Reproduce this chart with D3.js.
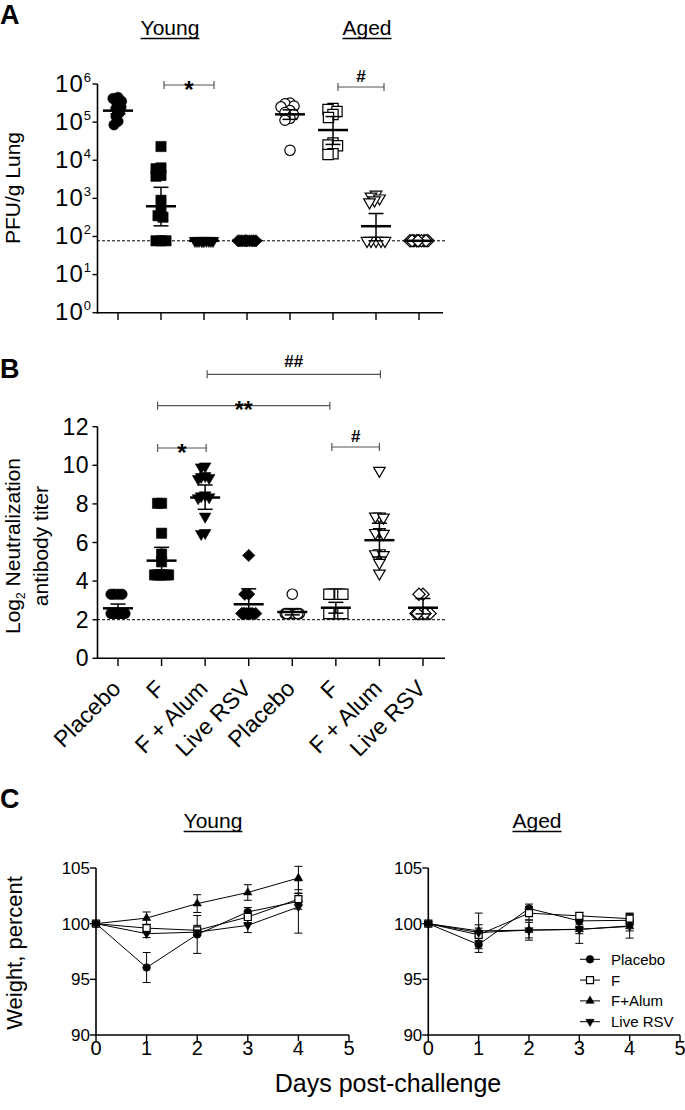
<!DOCTYPE html>
<html><head><meta charset="utf-8">
<script src="https://cdn.jsdelivr.net/npm/d3@7"></script>
<style>
body{margin:0;background:#fff}
svg text{font-family:"Liberation Sans",Arial,Helvetica,sans-serif;fill:#000}
</style>
</head><body>
<svg id="chart" width="685" height="1110"></svg>
<script>
// ---------- DATA ----------
const groupLabels = ["Placebo","F","F + Alum","Live RSV","Placebo","F","F + Alum","Live RSV"];
const ageLabels = ["Young","Aged"];
const lodPFU = 77;      // limit of detection, PFU/g
const lodNAb = 2;       // limit of detection, log2 titer
const pfuTickExps = [0,1,2,3,4,5,6];

// Panel A: PFU/g lung
const pfuYoungPlacebo = [447000,417000,355000,302000,251000,224000,178000,141000,105000,85000];
const pfuYoungF       = [22900,6300,6000,4000,3800,890,450,350,320,77,77,77];
const pfuYoungFAlum   = [77,77,77,77,77,77,77,77,77,77];
const pfuYoungLive    = [77,77,77,77,77,77,77,77,77,77];
const pfuAgedPlacebo  = [316000,302000,263000,251000,200000,178000,158000,126000,112000,18200];
const pfuAgedF        = [229000,214000,191000,158000,132000,28200,25100,24000,14800,14100];
const pfuAgedFAlum    = [1260,1120,1000,890,790,77,77,77,77,77];
const pfuAgedLive     = [77,77,77,77,77,77,77,77,77,77];
const pfuMean  = [200000,620,77,77,160000,62000,186,77];
const pfuErrHi = [240000,1950,77,77,210000,140000,400,77];
const pfuErrLo = [165000,190,77,77,118000,26000,77,77];

// Panel B: log2 neutralization titer
const nabYoungPlacebo = [3.32,3.32,3.32,3.32,2.32,2.32,2.32,2.32,2.32,2.32,2.32];
const nabYoungF       = [8.03,8.03,6.48,5.4,5.0,4.32,4.32,4.32,4.32,4.32,4.32];
const nabYoungFAlum   = [9.95,9.9,9.45,9.4,9.35,9.3,8.45,8.4,8.35,8.3,7.35,6.5,6.45];
const nabYoungLive    = [5.33,3.32,3.32,2.32,2.32,2.32,2.32,2.32,2.32,2.32,2.32];
const nabAgedPlacebo  = [3.32,2.32,2.32,2.32,2.32,2.32,2.32,2.32,2.32,2.32];
const nabAgedF        = [3.32,3.32,3.32,3.32,3.32,2.32,2.32,2.32,2.32,2.32];
const nabAgedFAlum    = [9.72,7.35,7.35,7.3,6.55,6.5,6.45,5.45,5.4,5.35,4.95,4.4];
const nabAgedLive     = [3.32,3.32,2.32,2.32,2.32,2.32,2.32,2.32,2.32,2.32];
const nabMean  = [2.59,5.06,8.33,2.8,2.4,2.62,6.12,2.62];
const nabErrHi = [2.81,5.75,8.98,3.6,2.55,2.9,7.0,3.1];
const nabErrLo = [2.37,4.4,7.72,2.3,2.25,2.34,5.25,2.3];

// Panel C: weight, percent
const days = [0,1,2,3,4];
const seriesNames = ["Placebo","F","F+Alum","Live RSV"];
const wYoungPlacebo = [100,96.06,99.03,101.05,102.0];
const wYoungF       = [100,99.6,99.4,100.6,102.2];
const wYoungFAlum   = [100,100.5,101.8,102.8,104.1];
const wYoungLive    = [100,99.1,99.24,99.85,101.5];
const eYoungPlacebo = [0,1.35,1.7,0.4,0.7];
const eYoungF       = [0,0.3,0.45,0.5,0.55];
const eYoungFAlum   = [0,0.55,0.8,0.7,1.05];
const eYoungLive    = [0,0.35,0.3,0.65,2.35];
const wAgedPlacebo  = [100,98.12,101.36,100.25,100.3];
const wAgedF        = [100,99.0,100.94,100.7,100.45];
const wAgedFAlum    = [100,99.35,99.42,99.5,99.75];
const wAgedLive     = [100,99.2,99.42,99.48,99.8];
const eAgedPlacebo  = [0,0.7,0.4,0.5,0.5];
const eAgedF        = [0,0.6,0.6,0.3,0.5];
const eAgedFAlum    = [0,1.6,0.9,0.4,0.4];
const eAgedLive     = [0,0.7,0.7,1.25,1.1];

// ---------- HELPERS ----------
const svg = d3.select("#chart");
const shapes = ["circle","square","triDown","diamond"];

function marker(g, shape, x, y, size, filled) {
  let type = d3.symbolCircle, rot = 0;
  if (shape === "square") type = d3.symbolSquare;
  if (shape === "diamond") { type = d3.symbolSquare; rot = 45; }
  if (shape === "triDown") { type = d3.symbolTriangle; rot = 180; }
  if (shape === "triUp") { type = d3.symbolTriangle; }
  g.append("path")
    .attr("d", d3.symbol(type, size)())
    .attr("transform", `translate(${x},${y}) rotate(${rot})`)
    .attr("fill", filled ? "#000" : "#fff")
    .attr("stroke", "#000")
    .attr("stroke-width", filled ? 0.6 : 1.2);
}

function swarm(vals, ys, minDist, cap) {
  const placed = [];
  const cands = d3.range(-cap, cap + 0.001, 0.5).sort((a,b) => Math.abs(a)-Math.abs(b) || a-b);
  return vals.map(v => {
    const y = ys(v);
    let best = 0, bestD = -1;
    for (const c of cands) {
      let d = Infinity;
      for (const p of placed) d = Math.min(d, Math.hypot(p[0]-c, p[1]-y));
      if (d >= minDist) { best = c; bestD = d; break; }
      if (d > bestD + 0.01) { bestD = d; best = c; }
    }
    placed.push([best, y]);
    return best;
  });
}

function line(g, x1, y1, x2, y2, w, color, dash) {
  const l = g.append("line").attr("x1",x1).attr("y1",y1).attr("x2",x2).attr("y2",y2)
    .attr("stroke", color || "#000").attr("stroke-width", w);
  if (dash) l.attr("stroke-dasharray", dash);
  return l;
}

function header(x, y, txt, size) {
  const t = svg.append("text").attr("x",x).attr("y",y).attr("text-anchor","middle")
    .attr("font-size",size).text(txt);
  const w = t.node().getComputedTextLength();
  line(svg, x - w/2, y + 3.5, x + w/2, y + 3.5, 1.3);
}

function bracket(g, x1, x2, y, label, labelSize, labelDy) {
  line(g, x1, y, x2, y, 1.2, "#555");
  line(g, x1, y-4, x1, y+4, 1.2, "#555");
  line(g, x2, y-4, x2, y+4, 1.2, "#555");
  g.append("text").attr("x",(x1+x2)/2).attr("y",y+labelDy).attr("text-anchor","middle")
    .attr("font-size",labelSize).attr("font-weight","bold").text(label);
}

function panelLetter(x, y, l) {
  svg.append("text").attr("x",x).attr("y",y).attr("font-size",27).attr("font-weight","bold").text(l);
}

function scatterPanel(g, groups, xs, ys, means, hi, lo, minDist, cap, mSizes) {
  groups.forEach((vals, i) => {
    const shape = shapes[i % 4];
    const filled = i < 4;
    const offs = swarm(vals, ys, minDist, cap);
    vals.forEach((v, j) => marker(g, shape, xs(i) + offs[j], ys(v), mSizes[shape], filled));
  });
  groups.forEach((vals, i) => {
    const cx = xs(i);
    if (hi[i] !== means[i]) {
      line(g, cx, ys(hi[i]), cx, ys(means[i]), 1.5);
      line(g, cx-7.5, ys(hi[i]), cx+7.5, ys(hi[i]), 1.5);
    }
    if (lo[i] !== means[i]) {
      line(g, cx, ys(lo[i]), cx, ys(means[i]), 1.5);
      line(g, cx-7.5, ys(lo[i]), cx+7.5, ys(lo[i]), 1.5);
    }
    line(g, cx-15, ys(means[i]), cx+15, ys(means[i]), 2.5);
  });
}

const mSizesAB = {circle: 85, square: 105, triDown: 58, diamond: 76};

// ---------- PANEL A ----------
panelLetter(0, 24, "A");
header(170, 35, ageLabels[0], 21);
header(367, 35, ageLabels[1], 21);

const gA = svg.append("g");
const xA = d3.scalePoint().domain(d3.range(8)).range([118, 419]);
const yA = d3.scaleLog().domain([1, 1e6]).range([312.7, 84]);

line(gA, 97.5, 84, 97.5, 313.5, 1.6);
line(gA, 97, 312.7, 443, 312.7, 1.6);
pfuTickExps.forEach(e => {
  const y = yA(Math.pow(10, e));
  line(gA, 92.5, y, 97.5, y, 1.4);
  const t = gA.append("text").attr("x", 92).attr("y", y + 7.7).attr("text-anchor","end")
    .attr("font-size", 24).attr("letter-spacing", 1);
  t.append("tspan").text("10");
  t.append("tspan").attr("dy", -10).attr("font-size", 13).text(String(e));
});
d3.range(8).forEach(i => line(gA, xA(i), 312.7, xA(i), 320, 1.4));
gA.append("text").attr("transform","translate(20,188) rotate(-90)").attr("text-anchor","middle")
  .attr("font-size", 21).text("PFU/g Lung");

line(gA, 97, yA(lodPFU), 447, yA(lodPFU), 1, "#000", "3,2");

scatterPanel(gA,
  [pfuYoungPlacebo,pfuYoungF,pfuYoungFAlum,pfuYoungLive,pfuAgedPlacebo,pfuAgedF,pfuAgedFAlum,pfuAgedLive],
  xA, yA, pfuMean, pfuErrHi, pfuErrLo, 5, 9, mSizesAB);

bracket(gA, xA(1)+3, xA(2)+10, 85, "*", 24, 12.5);
bracket(gA, xA(5)+5, xA(6)+8, 87, "#", 17, -5);

// ---------- PANEL B ----------
panelLetter(0, 378, "B");
const gB = svg.append("g");
const xB = d3.scalePoint().domain(d3.range(8)).range([118, 423]);
const yB = d3.scaleLinear().domain([0, 12]).range([658.3, 426.7]);

line(gB, 97.5, 426.7, 97.5, 659, 1.6);
line(gB, 97, 658.3, 445, 658.3, 1.6);
yB.ticks(6).forEach(v => {
  const y = yB(v);
  line(gB, 92.5, y, 97.5, y, 1.4);
  gB.append("text").attr("x", 89).attr("y", y + 8).attr("text-anchor","end")
    .attr("font-size", 23).attr("letter-spacing", 0.5).text(v);
});
d3.range(8).forEach(i => {
  line(gB, xB(i), 658.3, xB(i), 666, 1.4);
  gB.append("text").attr("transform", `translate(${xB(i)+4},${690}) rotate(-45)`)
    .attr("text-anchor","end").attr("font-size", 23).text(groupLabels[i]);
});
const yl = gB.append("text").attr("transform","translate(20,546) rotate(-90)").attr("text-anchor","middle")
  .attr("font-size", 21);
yl.append("tspan").text("Log");
yl.append("tspan").attr("dy", 5).attr("font-size", 12).text("2");
yl.append("tspan").attr("dy", -5).text(" Neutralization");
gB.append("text").attr("transform","translate(48,546) rotate(-90)").attr("text-anchor","middle")
  .attr("font-size", 21).text("antibody titer");

line(gB, 97, yB(lodNAb), 447, yB(lodNAb), 1, "#000", "3,2");

scatterPanel(gB,
  [nabYoungPlacebo,nabYoungF,nabYoungFAlum,nabYoungLive,nabAgedPlacebo,nabAgedF,nabAgedFAlum,nabAgedLive],
  xB, yB, nabMean, nabErrHi, nabErrLo, 4, 7, mSizesAB);

bracket(gB, xB(1)-4, xB(2)+1, 448, "*", 24, 12.5);
bracket(gB, xB(5)-4, xB(6), 447, "#", 17, -5);
bracket(gB, xB(1)-4, xB(5)-6, 405.7, "**", 23, 12);
bracket(gB, xB(2)+2, xB(6)+1, 374.3, "##", 17, -7);

// ---------- PANEL C ----------
panelLetter(0, 808, "C");
header(213, 828, ageLabels[0], 21);
header(537, 828, ageLabels[1], 21);

const yC = d3.scaleLinear().domain([90, 105]).range([1035, 868]);
const seriesShapes = ["circle","square","triUp","triDown"];
const seriesFilled = [true, false, true, true];
const mSizesC = {circle: 46, square: 49, triUp: 30, triDown: 30};

function linePanel(x0, x1, means, errs) {
  const g = svg.append("g");
  const xC = d3.scaleLinear().domain([0, 5]).range([x0, x1]);
  line(g, x0, 868, x0, 1035.7, 1.6);
  line(g, x0 - 0.7, 1035, x1, 1035, 1.6);
  [90,95,100,105].forEach(v => {
    line(g, x0 - 6, yC(v), x0, yC(v), 1.4);
    g.append("text").attr("x", x0 - 6).attr("y", yC(v) + 6).attr("text-anchor","end")
      .attr("font-size", 17).text(v);
  });
  d3.range(0, 6).forEach(d => {
    line(g, xC(d), 1035, xC(d), 1041, 1.4);
    g.append("text").attr("x", xC(d)).attr("y", 1055).attr("text-anchor","middle")
      .attr("font-size", 20).text(d);
  });
  const lg = d3.line().x((d, i) => xC(days[i])).y(d => yC(d));
  means.forEach(m => g.append("path").attr("d", lg(m)).attr("fill","none").attr("stroke","#000").attr("stroke-width",1));
  means.forEach((m, s) => m.forEach((v, i) => {
    const e = errs[s][i];
    if (e > 0) {
      const cx = xC(days[i]);
      line(g, cx, yC(v + e), cx, yC(v - e), 1);
      line(g, cx-4, yC(v + e), cx+4, yC(v + e), 1);
      line(g, cx-4, yC(v - e), cx+4, yC(v - e), 1);
    }
  }));
  means.forEach((m, s) => m.forEach((v, i) =>
    marker(g, seriesShapes[s], xC(days[i]), yC(v), mSizesC[seriesShapes[s]], seriesFilled[s])));
  return g;
}

linePanel(96, 349,
  [wYoungPlacebo, wYoungF, wYoungFAlum, wYoungLive],
  [eYoungPlacebo, eYoungF, eYoungFAlum, eYoungLive]);
const gAged = linePanel(428.3, 680,
  [wAgedPlacebo, wAgedF, wAgedFAlum, wAgedLive],
  [eAgedPlacebo, eAgedF, eAgedFAlum, eAgedLive]);

seriesNames.forEach((n, s) => {
  const y = 959.3 + s * 20.8;
  line(gAged, 580, y, 600, y, 1);
  marker(gAged, seriesShapes[s], 590, y, mSizesC[seriesShapes[s]], seriesFilled[s]);
  gAged.append("text").attr("x", 611).attr("y", y + 5.5).attr("font-size", 15).text(n);
});

svg.append("text").attr("transform","translate(22,953) rotate(-90)").attr("text-anchor","middle")
  .attr("font-size", 22).text("Weight, percent");
svg.append("text").attr("x", 388).attr("y", 1092).attr("text-anchor","middle")
  .attr("font-size", 25).text("Days post-challenge");
</script>
</body></html>
